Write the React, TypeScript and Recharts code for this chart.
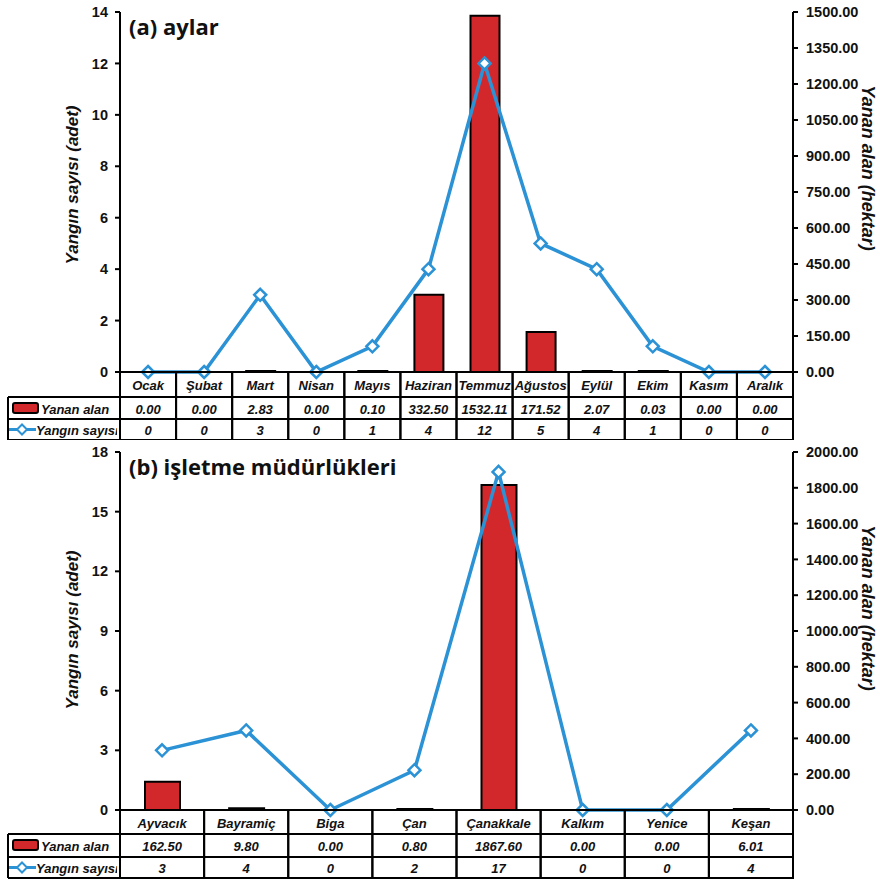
import React from "react";
import { ComposedChart, Bar, Line, XAxis, YAxis } from "recharts";

// ---- data: months ----
const monthNames = ["Ocak", "Şubat", "Mart", "Nisan", "Mayıs", "Haziran", "Temmuz", "Ağustos", "Eylül", "Ekim", "Kasım", "Aralık"];
const monthArea = [0.0, 0.0, 2.83, 0.0, 0.1, 332.5, 1532.11, 171.52, 2.07, 0.03, 0.0, 0.0];
const monthCount = [0, 0, 3, 0, 1, 4, 12, 5, 4, 1, 0, 0];
const monthCountTicks = [0, 2, 4, 6, 8, 10, 12, 14];
const monthAreaTicks = [0, 150, 300, 450, 600, 750, 900, 1050, 1200, 1350, 1500];

// ---- data: işletme müdürlükleri ----
const unitNames = ["Ayvacık", "Bayramiç", "Biga", "Çan", "Çanakkale", "Kalkım", "Yenice", "Keşan"];
const unitArea = [162.5, 9.8, 0.0, 0.8, 1867.6, 0.0, 0.0, 6.01];
const unitCount = [3, 4, 0, 2, 17, 0, 0, 4];
const unitCountTicks = [0, 3, 6, 9, 12, 15, 18];
const unitAreaTicks = [0, 200, 400, 600, 800, 1000, 1200, 1400, 1600, 1800, 2000];

const RED = "#d3282b";
const BLUE = "#2b92d5";
const FONT = "'Liberation Sans', Arial, sans-serif";

const PLOT_LEFT = 120;
const PLOT_RIGHT = 793;

const Diamond = (props: any) => {
  const { cx, cy, index } = props;
  if (cx == null || cy == null) return <g key={index} />;
  const r = 6;
  return (
    <polygon
      key={index}
      points={`${cx},${cy - r} ${cx + r},${cy} ${cx},${cy + r} ${cx - r},${cy}`}
      fill="#fff"
      stroke={BLUE}
      strokeWidth={2.5}
    />
  );
};

// draws one column of the data table under the category axis
const makeTableTick = (names: string[], area: number[], count: number[], rows: number[]) => {
  const band = (PLOT_RIGHT - PLOT_LEFT) / names.length;
  return (props: any) => {
    const { x, y, index } = props;
    const left = x - band / 2;
    const y0 = y;
    const y1 = y0 + rows[0];
    const y2 = y1 + rows[1];
    const y3 = y2 + rows[2];
    const txt = {
      fontFamily: FONT,
      fontStyle: "italic",
      fontWeight: "bold",
      fontSize: 13,
      fill: "#111",
      textAnchor: "middle" as const,
      dominantBaseline: "central" as const,
    };
    const m3 = (y2 + y3) / 2;
    return (
      <g>
        {index === 0 && (
          <g>
            <rect x={13} y={y1 + 6} width={25} height={10} rx={2} fill={RED} stroke="#000" strokeWidth={2} />
            <text x={41} y={(y1 + y2) / 2 + 1} {...txt} textAnchor="start">
              Yanan alan
            </text>
            <line x1={8} x2={36} y1={m3} y2={m3} stroke={BLUE} strokeWidth={3} />
            <polygon
              points={`22,${m3 - 5} 27,${m3} 22,${m3 + 5} 17,${m3}`}
              fill="#fff"
              stroke={BLUE}
              strokeWidth={2}
            />
            <text x={36} y={m3 + 1} {...txt} textAnchor="start">
              Yangın sayısı
            </text>
            <rect x={left - 3} y={y1 - 1} width={4} height={rows[1] + rows[2] + 2} fill="#fff" />
            <line x1={8} x2={left} y1={y1} y2={y1} stroke="#000" strokeWidth={2} />
            <line x1={8} x2={left} y1={y2} y2={y2} stroke="#000" strokeWidth={2} />
            <line x1={8} x2={left} y1={y3} y2={y3} stroke="#000" strokeWidth={2} />
            <line x1={8} x2={8} y1={y1} y2={y3} stroke="#000" strokeWidth={2} />
          </g>
        )}
        <rect x={left} y={y0} width={band} height={y3 - y0} fill="none" stroke="#000" strokeWidth={2} />
        <line x1={left} x2={left + band} y1={y1} y2={y1} stroke="#000" strokeWidth={2} />
        <line x1={left} x2={left + band} y1={y2} y2={y2} stroke="#000" strokeWidth={2} />
        <text x={x} y={(y0 + y1) / 2 + 1} {...txt}>
          {names[index]}
        </text>
        <text x={x} y={(y1 + y2) / 2 + 1} {...txt}>
          {area[index].toFixed(2)}
        </text>
        <text x={x} y={(y2 + y3) / 2 + 1} {...txt}>
          {count[index]}
        </text>
      </g>
    );
  };
};

const tickStyle = { fontFamily: FONT, fontWeight: "bold" as const, fontSize: 14.5, fill: "#111" };

type PanelProps = {
  top: number;
  height: number;
  bottom: number;
  names: string[];
  area: number[];
  count: number[];
  countTicks: number[];
  areaTicks: number[];
  barMax: number;
  barSize: number;
  rows: number[];
  title: string;
  titleY: number;
  leftLabelY: number;
  rightLabelY: number;
};

const Panel = (p: PanelProps) => {
  const data = p.names.map((name, i) => ({ name, area: p.area[i], count: p.count[i] }));
  const tableH = p.rows[0] + p.rows[1] + p.rows[2];
  return (
    <div style={{ position: "absolute", left: 0, top: p.top, width: 880, height: p.height }}>
      <ComposedChart
        width={880}
        height={p.height}
        data={data}
        margin={{ top: 12, right: 27, bottom: p.bottom, left: 60 }}
      >
        <XAxis
          dataKey="name"
          xAxisId="x"
          interval={0}
          height={tableH}
          tickSize={0}
          tickMargin={0}
          tickLine={false}
          axisLine={{ stroke: "#000", strokeWidth: 2 }}
          tick={makeTableTick(p.names, p.area, p.count, p.rows)}
        />
        <YAxis
          yAxisId="left"
          width={60}
          domain={[0, p.countTicks[p.countTicks.length - 1]]}
          ticks={p.countTicks}
          interval={0}
          tickSize={5}
          tickMargin={7}
          axisLine={{ stroke: "#000", strokeWidth: 2 }}
          tickLine={{ stroke: "#000", strokeWidth: 2 }}
          tick={tickStyle}
        />
        <YAxis
          yAxisId="right"
          orientation="right"
          width={60}
          domain={[0, p.areaTicks[p.areaTicks.length - 1]]}
          allowDataOverflow
          ticks={p.areaTicks}
          interval={0}
          tickSize={5}
          tickMargin={8}
          axisLine={{ stroke: "#000", strokeWidth: 2 }}
          tickLine={{ stroke: "#000", strokeWidth: 2 }}
          tick={{ ...tickStyle, textAnchor: "start" }}
          tickFormatter={(v: number) => v.toFixed(2)}
        />
        <YAxis yAxisId="bars" orientation="right" hide width={0} domain={[0, p.barMax]} />
        {/* keeps the visible hectare axis bound to the area series */}
        <Line
          dataKey="area"
          xAxisId="x"
          yAxisId="right"
          stroke="none"
          dot={false}
          activeDot={false}
          isAnimationActive={false}
        />
        <Bar
          dataKey="area"
          xAxisId="x"
          yAxisId="bars"
          barSize={p.barSize}
          fill={RED}
          stroke="#000"
          strokeWidth={2}
          minPointSize={(v: any) => (v > 0 ? 1 : 0)}
          isAnimationActive={false}
        />
        <Line
          dataKey="count"
          xAxisId="x"
          yAxisId="left"
          type="linear"
          stroke={BLUE}
          strokeWidth={3.5}
          dot={Diamond}
          activeDot={false}
          isAnimationActive={false}
        />
      </ComposedChart>
      <svg width={880} height={p.height} style={{ position: "absolute", left: 0, top: 0, pointerEvents: "none" }}>
        <text x={129} y={p.titleY} fontFamily="'Open Sans', sans-serif" fontWeight="bold" fontSize={22} fill="#111">
          {p.title}
        </text>
        <text
          x={0}
          y={0}
          transform={`translate(78, ${p.leftLabelY}) rotate(-90)`}
          textAnchor="middle"
          fontFamily={FONT}
          fontStyle="italic"
          fontWeight="bold"
          fontSize={17}
          fill="#111"
        >
          Yangın sayısı (adet)
        </text>
        <text
          x={0}
          y={0}
          transform={`translate(862, ${p.rightLabelY}) rotate(90)`}
          textAnchor="middle"
          fontFamily={FONT}
          fontStyle="italic"
          fontWeight="bold"
          fontSize={18}
          fill="#111"
        >
          Yanan alan (hektar)
        </text>
      </svg>
    </div>
  );
};

export default function App() {
  return (
    <div style={{ position: "absolute", left: 0, top: 0, width: 880, height: 879, background: "#fff" }}>
      <Panel
        top={0}
        height={440}
        bottom={0}
        names={monthNames}
        area={monthArea}
        count={monthCount}
        countTicks={monthCountTicks}
        areaTicks={monthAreaTicks}
        barMax={1548}
        barSize={29}
        rows={[25, 22, 21]}
        title="(a) aylar"
        titleY={35}
        leftLabelY={185}
        rightLabelY={168}
      />
      <Panel
        top={440}
        height={439}
        bottom={1}
        names={unitNames}
        area={unitArea}
        count={unitCount}
        countTicks={unitCountTicks}
        areaTicks={unitAreaTicks}
        barMax={2057}
        barSize={35}
        rows={[24, 23, 21]}
        title="(b) işletme müdürlükleri"
        titleY={35}
        leftLabelY={190}
        rightLabelY={168}
      />
    </div>
  );
}
